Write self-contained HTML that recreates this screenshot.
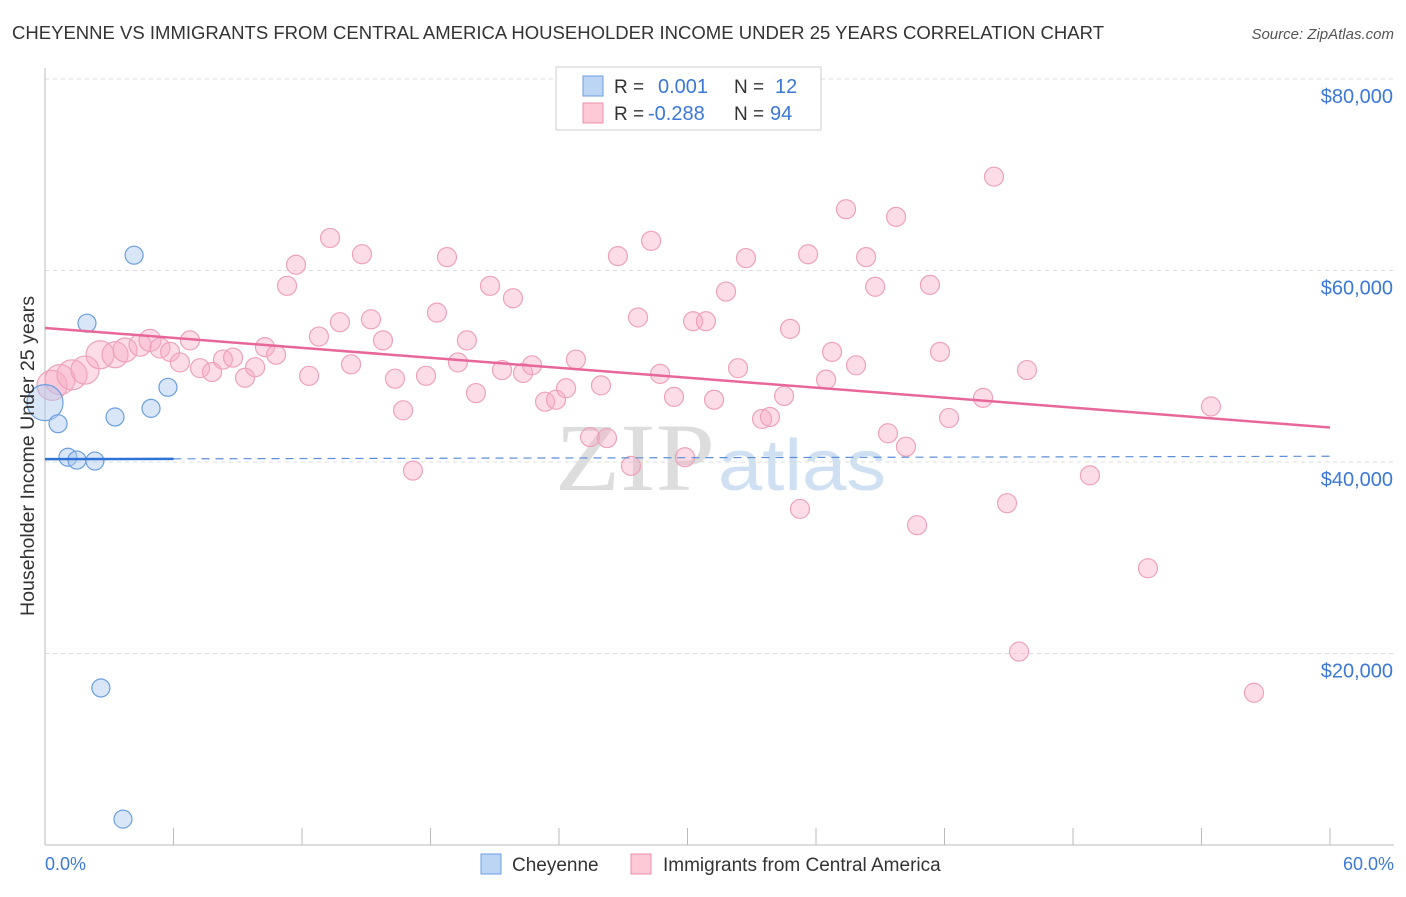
<!DOCTYPE html>
<html><head><meta charset="utf-8"><style>
body{margin:0;background:#fff;font-family:"Liberation Sans",sans-serif}
svg text{font-family:"Liberation Sans",sans-serif}
</style></head><body>
<svg id="chart" width="1406" height="892">
<text x="12" y="39" font-size="18" fill="#333" textLength="1092" lengthAdjust="spacingAndGlyphs">CHEYENNE VS IMMIGRANTS FROM CENTRAL AMERICA HOUSEHOLDER INCOME UNDER 25 YEARS CORRELATION CHART</text>
<text x="1394" y="39" font-size="15" fill="#555" font-style="italic" text-anchor="end">Source: ZipAtlas.com</text>
<text x="555" y="490" font-size="96" fill="#ddd" font-family="Liberation Serif" textLength="160" lengthAdjust="spacingAndGlyphs" style="font-family:'Liberation Serif'">ZIP</text>
<text x="718" y="490" font-size="72" fill="#cfe0f3" textLength="168" lengthAdjust="spacingAndGlyphs">atlas</text>
<g id="grid"></g><g id="marks"></g>
<text transform="translate(34,456) rotate(-90)" font-size="19" fill="#333" text-anchor="middle" textLength="320" lengthAdjust="spacingAndGlyphs">Householder Income Under 25 years</text>
<text x="45" y="870" font-size="18" fill="#3b78d8">0.0%</text>
<text x="1394" y="870" font-size="18" fill="#3b78d8" text-anchor="end">60.0%</text>
<g>
<rect x="556" y="67" width="265" height="63" fill="#fff" stroke="#ccc"/>
<rect x="583" y="76" width="20" height="20" fill="#bcd5f5" stroke="#6a9ee0"/>
<rect x="583" y="103" width="20" height="20" fill="#fcc9d7" stroke="#ec8fab"/>
<text x="614" y="93" font-size="19" fill="#333">R = </text><text x="658" y="93" font-size="20" fill="#3b78d8">0.001</text>
<text x="734" y="93" font-size="19" fill="#333">N = </text><text x="775" y="93" font-size="20" fill="#3b78d8">12</text>
<text x="614" y="120" font-size="19" fill="#333">R = </text><text x="648" y="120" font-size="20" fill="#3b78d8">-0.288</text>
<text x="734" y="120" font-size="19" fill="#333">N = </text><text x="770" y="120" font-size="20" fill="#3b78d8">94</text>
</g>
<g>
<rect x="481" y="854" width="20" height="20" fill="#bcd5f5" stroke="#6a9ee0"/>
<text x="512" y="871" font-size="19" fill="#333">Cheyenne</text>
<rect x="631" y="854" width="20" height="20" fill="#fcc9d7" stroke="#ec8fab"/>
<text x="663" y="871" font-size="19" fill="#333">Immigrants from Central America</text>
</g>
</svg>
<script>
const yTicks=[20000,40000,60000,80000];
const yTickLabels=["$20,000","$40,000","$60,000","$80,000"];
const cheyX=[0,0.61,1.07,1.49,2.33,1.96,3.27,4.16,4.95,5.74,2.61,3.64];
const cheyY=[46.2,44.0,40.5,40.2,40.1,54.5,44.7,61.6,45.6,47.8,16.4,2.7];
const cheySize=[18,9,9,9,9,9,9,9,9,9,9,9];
const immX=[0.33,0.70,1.26,1.87,2.57,3.27,3.74,4.44,4.90,5.37,5.84,6.30,6.77,7.24,7.80,8.31,8.78,9.34,9.81,10.27,10.79,11.30,11.72,12.33,12.79,13.31,13.77,14.29,14.80,15.22,15.78,16.34,16.72,17.18,17.79,18.30,18.77,19.28,19.70,20.12,20.78,21.34,21.85,22.32,22.74,23.35,23.86,24.33,24.79,25.45,25.96,26.24,26.75,27.36,27.69,28.30,28.72,29.37,29.88,30.26,30.86,31.24,31.80,32.36,32.73,33.48,33.85,34.51,34.79,35.25,35.63,36.47,36.75,37.40,37.87,38.34,38.76,39.36,39.74,40.20,40.72,41.32,41.79,42.21,43.80,44.31,44.92,45.48,45.85,48.79,51.50,54.44,56.45];
const immY=[48.0,48.6,49.1,49.6,51.2,51.2,51.7,52.2,52.7,51.9,51.5,50.4,52.7,49.8,49.4,50.7,50.9,48.8,49.9,52.0,51.2,58.4,60.6,49.0,53.1,63.4,54.6,50.2,61.7,54.9,52.7,48.7,45.4,39.1,49.0,55.6,61.4,50.4,52.7,47.2,58.4,49.6,57.1,49.3,50.1,46.3,46.5,47.7,50.7,42.6,48.0,42.5,61.5,39.6,55.1,63.1,49.2,46.8,40.5,54.7,54.7,46.5,57.8,49.8,61.3,44.5,44.7,46.9,53.9,35.1,61.7,48.6,51.5,66.4,50.1,61.4,58.3,43.0,65.6,41.6,33.4,58.5,51.5,44.6,46.7,69.8,35.7,20.2,49.6,38.6,28.9,45.8,15.9];
const immSize=[15,15,15,14,14,13,12,11,11,10];
const trendImm=[54.0,43.6];
const trendChey=[40.3,40.6];
const X=p=>45+p/60*1285;
const Y=v=>845-v/20000*191.5;
const YK=k=>Y(k*1000);
const NS="http://www.w3.org/2000/svg";
function mk(t,a,p){const e=document.createElementNS(NS,t);for(const k in a)e.setAttribute(k,a[k]);p.appendChild(e);return e;}
const g=document.getElementById('grid'),m=document.getElementById('marks');
yTicks.forEach((t,i)=>{
 const l=mk('line',{x1:45,x2:1394,y1:Y(t),y2:Y(t),stroke:'#ddd','stroke-dasharray':'4,4'},g);
 
 
 const tx=mk('text',{x:1393,y:Y(t)+24,'font-size':20,fill:'#3b78d8','text-anchor':'end'},g);
 tx.textContent=yTickLabels[i];
 
 
});
mk('line',{x1:45,x2:45,y1:68,y2:845,stroke:'#bbb'},g);
mk('line',{x1:45,x2:1394,y1:845,y2:845,stroke:'#bbb'},g);
for(let i=0;i<=10;i++){const x=X(i*6);mk('line',{x1:x,x2:x,y1:828,y2:845,stroke:'#bbb'},g);}
immX.forEach((x,i)=>{
 const c=mk('circle',{cx:X(x),cy:YK(immY[i]),r:immSize[i]||9.5,fill:'rgba(248,170,195,0.4)',stroke:'#eea2ba','stroke-width':1.2},m);
 
 
});
cheyX.forEach((x,i)=>{
 const c=mk('circle',{cx:X(x),cy:YK(cheyY[i]),r:cheySize[i],fill:'rgba(170,200,240,0.45)',stroke:'#6b9fe0','stroke-width':1.2},m);
 
 
});
const t1=mk('line',{x1:X(0),y1:YK(trendImm[0]),x2:X(60),y2:YK(trendImm[1]),stroke:'#e8679a','stroke-width':2.5},m);


const yc=p=>YK(trendChey[0]+(trendChey[1]-trendChey[0])*p/60);
const t2=mk('line',{x1:X(0),y1:yc(0),x2:X(6),y2:yc(6),stroke:'#2f72d6','stroke-width':2.5},m);


const t3=mk('line',{x1:X(6),y1:yc(6),x2:X(60),y2:yc(60),stroke:'#5b8fd8','stroke-width':1.2,'stroke-dasharray':'8,6'},m);


</script>
</body></html>
